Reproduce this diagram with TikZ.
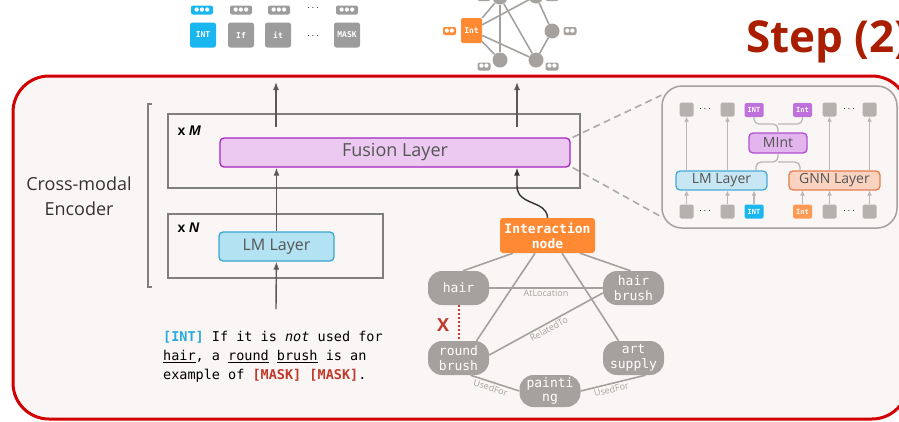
\documentclass[tikz,border=0pt]{standalone}
\usepackage{fontspec}
\setmainfont{Open Sans}
\setsansfont{Open Sans}
\setmonofont{DejaVu Sans Mono}
\newfontfamily\tagfont{Liberation Sans}
\newfontfamily\dotfont{DejaVu Sans}
\usetikzlibrary{arrows.meta,positioning}

\definecolor{framered}{HTML}{D20000}
\definecolor{titlered}{HTML}{AA1E00}
\definecolor{bgfill}{HTML}{FAF6F5}
\definecolor{boxgray}{HTML}{7F7F7F}
\definecolor{arrowgray}{HTML}{595959}
\definecolor{darkarrow}{HTML}{333333}
\definecolor{textgray}{HTML}{555555}
\definecolor{fusionfill}{HTML}{EBC9F0}
\definecolor{fusiondraw}{HTML}{A526C4}
\definecolor{lmfill}{HTML}{B3E2F3}
\definecolor{lmdraw}{HTML}{3AA6CF}
\definecolor{nodegray}{HTML}{A5A19F}
\definecolor{interorange}{HTML}{FF8A33}
\definecolor{tokblue}{HTML}{1AB6EF}
\definecolor{tokgray}{HTML}{9C9C9C}
\definecolor{txtblue}{HTML}{29A9E1}
\definecolor{txtred}{HTML}{C0392B}
\definecolor{sqgray}{HTML}{B5B1AF}
\definecolor{mintfill}{HTML}{E3B5EF}
\definecolor{mintdraw}{HTML}{B050D0}
\definecolor{tokpurple}{HTML}{C070DB}
\definecolor{lminfill}{HTML}{C8E7F5}
\definecolor{lmindraw}{HTML}{47A9D6}
\definecolor{gnnfill}{HTML}{F9D3BF}
\definecolor{gnndraw}{HTML}{E57D50}
\definecolor{intorange}{HTML}{FF9A55}
\definecolor{thingray}{HTML}{B8B8B8}

\begin{document}
\begin{tikzpicture}[
  x=1pt, y=-1pt,
  arrow/.style={-{Latex[length=8pt,width=6pt]}, line width=1.4pt, draw=arrowgray},
  frame/.style={draw=boxgray, line width=1.4pt, minimum height=0pt, inner sep=0pt},
  layer/.style={
    draw,
    rounded corners=4pt,
    line width=1.3pt,
    text=textgray,
    font=\fontsize{16}{18}\selectfont,
    inner sep=0pt
  },
  concept/.style={
    fill=nodegray,
    rounded corners=14pt,
    text=white,
    align=center,
    font=\ttfamily\fontsize{13}{14.5}\selectfont,
    minimum width=61pt,
    minimum height=34pt,
    inner sep=0pt
  },
  relation/.style={draw=nodegray, line width=1.6pt},
  rellabel/.style={font=\fontsize{9}{10}\selectfont, text=nodegray, inner sep=1.5pt},
  token/.style={rounded corners=2.5pt, text=white, font=\ttfamily\bfseries\fontsize{8}{8}\selectfont,
    minimum width=26pt, minimum height=25pt, inner sep=0pt},
  pill/.style={rounded corners=2pt, text=white, font=\dotfont\fontsize{5.5}{6}\selectfont,
    minimum width=22pt, minimum height=9pt, inner sep=0pt},
  sq/.style={fill=sqgray, rounded corners=1.5pt, minimum size=14pt, inner sep=0pt},
  mini/.style={rounded corners=1.5pt, text=white, font=\ttfamily\bfseries\fontsize{7}{7}\selectfont,
    minimum width=19pt, minimum height=14pt, inner sep=0pt},
  inarrow/.style={-{Latex[length=5pt,width=5pt]}, line width=1.4pt, draw=thingray},
  brace/.style={draw=thingray, line width=1.3pt, rounded corners=5pt},
  dot/.style={circle, fill=nodegray, minimum size=15pt, inner sep=0pt}
]
  \useasboundingbox (0,0) rectangle (899,421);

  % tokens on top
  \node[token, fill=tokblue] (tint) at (203,35) {INT};
  \node[token, fill=tokgray] (tif) at (241,35) {If};
  \node[token, fill=tokgray] (tit) at (278,35) {it};
  \node (tdots) at (313,36) {$\cdots$};
  \node[token, fill=tokgray] (tmask) at (347,35) {MASK};
  \node[pill, fill=tokblue] (pint) at (202,10) {●\kern0.5pt●\kern0.5pt●};
  \node[pill, fill=tokgray] (pif) at (241,10) {●\kern0.5pt●\kern0.5pt●};
  \node[pill, fill=tokgray] (pit) at (279,10) {●\kern0.5pt●\kern0.5pt●};
  \node (pdots) at (313,8) {$\cdots$};
  \node[pill, fill=tokgray] (pmask) at (347,10) {●\kern0.5pt●\kern0.5pt●};

  % small graph on top
  \node[dot] (gtl) at (500,-3) {};
  \node[dot] (gtr) at (536,-4) {};
  \node[dot] (grt) at (552,31) {};
  \node[dot] (gbl) at (500,60) {};
  \node[dot] (gbr) at (536,60) {};
  \node[rounded corners=1.5pt, fill=interorange, text=white, font=\ttfamily\bfseries\fontsize{8}{8}\selectfont,
    minimum width=21pt, minimum height=25pt, inner sep=0pt] (gint) at (471.5,30.5) {Int};
  \draw[relation] (gint) -- (gtl);
  \draw[relation] (gint) -- (gtr);
  \draw[relation] (gint) -- (gbl);
  \draw[relation] (gint) -- (gbr);
  \draw[relation] (gtl) -- (gbl);
  \draw[relation] (gtl) -- (gbr);
  \draw[relation] (gtr) -- (grt);
  \draw[relation] (grt) -- (gbr);
  \node[pill, fill=interorange, minimum width=13pt, minimum height=8pt] (gpint) at (449.5,31) {●\kern0.3pt●};
  \node[pill, fill=nodegray, minimum width=13pt, minimum height=8pt] (gpbl) at (484,66.5) {●\kern0.3pt●};
  \node[pill, fill=nodegray, minimum width=13pt, minimum height=8pt] (gpbr) at (552,66.5) {●\kern0.3pt●};
  \node[pill, fill=nodegray, minimum width=13pt, minimum height=8pt] (gprt) at (570,31) {●\kern0.3pt●};
  \node[pill, fill=nodegray, minimum width=13pt, minimum height=8pt] (gptl) at (484,-3) {●\kern0.3pt●};
  \node[pill, fill=nodegray, minimum width=13pt, minimum height=8pt] (gptr) at (552,-3) {●\kern0.3pt●};

  \node[anchor=base west, text=titlered, font=\bfseries\fontsize{44}{46}\selectfont, inner sep=0pt] (step) at (746,52) {Step (2)};

  % red frame
  \draw[draw=framered, line width=3pt, fill=bgfill, rounded corners=36pt] (13,76) rectangle (908,419);

  % encoder
  \draw[draw=boxgray, line width=1.2pt] (152,104) -- (148,104) -- (148,287) -- (152,287);
  \node[align=center, text=darkarrow, font=\fontsize{18}{25}\selectfont] (enc) at (79,196) {Cross-modal\\Encoder};

  \node[frame, minimum width=412pt, minimum height=74pt] (repM) at (374,151) {};
  \node[frame, minimum width=215pt, minimum height=64pt] (repN) at (275.5,246) {};
  \node[anchor=west, font=\tagfont\bfseries\fontsize{14}{16}\selectfont, text=black] (mtag) at (174,131) {x \textit{M}};
  \node[anchor=west, font=\tagfont\bfseries\fontsize{14}{16}\selectfont, text=black] (ntag) at (174,228) {x \textit{N}};

  \node[layer, draw=fusiondraw, fill=fusionfill, font=\fontsize{18}{20}\selectfont, minimum width=350pt, minimum height=29pt] (fusion) at (395,152.5) {Fusion Layer};
  \node[layer, draw=lmdraw, fill=lmfill, minimum width=115pt, minimum height=29pt] (lm) at (276.5,246.5) {LM Layer};

  \coordinate (txtin) at (276,309);
  \coordinate (outl) at (276,127);
  \coordinate (topl) at (276,82);
  \coordinate (outr) at (517,127);
  \coordinate (topr) at (517,82);
  \draw[arrow] (txtin) -- (lm);
  \draw[arrow] (lm) -- (lm |- fusion.south);
  \draw[arrow] (outl) -- (topl);
  \draw[arrow] (outr) -- (topr);

  % input sentence
  \node[anchor=north west, align=left, inner sep=0pt, text=black,
    font=\ttfamily\fontsize{13.5}{19}\selectfont] (sent) at (163,331)
    {\textcolor{txtblue}{\bfseries[INT]} If it is \textit{not} used for\\
     \underline{hair}, a \underline{round} \underline{brush} is an\\
     example of \textcolor{txtred}{\bfseries[MASK] [MASK]}.};

  % knowledge graph
  \node[rounded corners=3pt, fill=interorange, text=white, align=center,
    font=\ttfamily\bfseries\fontsize{13}{15}\selectfont,
    minimum width=95pt, minimum height=35pt, inner sep=0pt] (inter) at (547.5,235.5) {Interaction\\node};
  \node[concept] (hair) at (458.5,288) {hair};
  \node[concept] (hairb) at (633.5,288) {hair\\brush};
  \node[concept] (roundb) at (458.5,358) {round\\brush};
  \node[concept] (artsup) at (633.5,358) {art\\supply};
  \node[concept, minimum height=32pt] (paint) at (550,391) {painti\\ng};

  \coordinate (bend) at (517,186);
  \draw[arrow, draw=darkarrow] (inter.north) .. controls (547,200) and (517,206) .. (bend) -- (bend |- fusion.south);

  \draw[relation] ([xshift=-34.5pt]inter.south) -- ([xshift=4.5pt]hair.north);
  \draw[relation] ([xshift=-12.5pt]inter.south) -- ([xshift=18pt]roundb.north);
  \draw[relation] ([xshift=14.5pt]inter.south) -- ([xshift=-15pt]artsup.north);
  \draw[relation] ([xshift=32.5pt]inter.south) -- ([xshift=-3pt]hairb.north);
  \draw[relation] (hair.east) -- node[rellabel, below, pos=0.5] {AtLocation} (hairb.west);
  \draw[relation] ([yshift=3pt]roundb.east) -- node[rellabel, sloped, below, pos=0.5] {RelatedTo} ([yshift=-5pt]hairb.west);
  \draw[relation] ([xshift=12pt]roundb.south) -- node[rellabel, sloped, below, pos=0.45] {UsedFor} (paint.west);
  \draw[relation] (paint.east) -- node[rellabel, sloped, below, pos=0.45] {UsedFor} ([xshift=12pt]artsup.south);
  \draw[draw=txtred, line width=2pt, dotted] (hair.south) -- (roundb.north);
  \node[text=txtred, font=\bfseries\fontsize{18}{18}\selectfont, inner sep=0pt] (cross) at (443,325) {X};

  % zoomed view of the fusion layer
  \node[draw=nodegray, line width=1.5pt, fill=bgfill, rounded corners=20pt,
    minimum width=235pt, minimum height=142pt] (inset) at (779.5,157) {};
  \draw[draw=nodegray!90, line width=1.6pt, dash pattern=on 7pt off 4.5pt] ([xshift=2pt]fusion.north east) -- ([yshift=-10pt]inset.north west);
  \draw[draw=nodegray!90, line width=1.6pt, dash pattern=on 7pt off 4.5pt] ([xshift=2pt]fusion.south east) -- ([yshift=12pt]inset.south west);

  \node[sq] (u1) at (686.5,109.5) {};
  \node (udl) at (705,109) {$\cdots$};
  \node[sq] (u2) at (727.5,109.5) {};
  \node[mini, fill=tokpurple] (uint) at (754,110) {INT};
  \node[mini, fill=tokpurple] (ugint) at (802.5,110) {Int};
  \node[sq] (u3) at (829.5,109.5) {};
  \node (udr) at (849,109) {$\cdots$};
  \node[sq] (u4) at (869.5,109.5) {};

  \node[sq] (d1) at (686.5,211.5) {};
  \node (ddl) at (705,211) {$\cdots$};
  \node[sq] (d2) at (727.5,211.5) {};
  \node[mini, fill=tokblue] (dint) at (754,211.5) {INT};
  \node[mini, fill=intorange] (dgint) at (802.5,211.5) {Int};
  \node[sq] (d3) at (829.5,211.5) {};
  \node (ddr) at (849,211) {$\cdots$};
  \node[sq] (d4) at (869.5,211.5) {};

  \node[layer, draw=mintdraw, fill=mintfill, font=\fontsize{14}{16}\selectfont, minimum width=58pt, minimum height=20pt] (mint) at (778,143) {MInt};
  \node[layer, draw=lmindraw, fill=lminfill, font=\fontsize{14}{16}\selectfont, minimum width=91pt, minimum height=19pt] (lmin) at (721.5,180.5) {LM Layer};
  \node[layer, draw=gnndraw, fill=gnnfill, font=\fontsize{14}{16}\selectfont, minimum width=91pt, minimum height=19pt] (gnn) at (834.5,180.5) {GNN Layer};

  \coordinate (topknot) at (778,124);
  \coordinate (botknot) at (778,162);
  \draw[brace] (uint.south) |- (topknot) -- (mint.north);
  \draw[brace] (ugint.south) |- (topknot);
  \draw[brace] (mint.south) -- (botknot) -| ([xshift=34.5pt]lmin.north);
  \draw[brace] (botknot) -| ([xshift=-34.5pt]gnn.north);

  \draw[inarrow] (d1) -- (d1 |- lmin.south);
  \draw[inarrow] (d2) -- (d2 |- lmin.south);
  \draw[inarrow] (dint) -- (dint |- lmin.south);
  \draw[inarrow] (dgint) -- (dgint |- gnn.south);
  \draw[inarrow] (d3) -- (d3 |- gnn.south);
  \draw[inarrow] (d4) -- (d4 |- gnn.south);
  \draw[inarrow] (u1 |- lmin.north) -- (u1);
  \draw[inarrow] (u2 |- lmin.north) -- (u2);
  \draw[inarrow] (u3 |- gnn.north) -- (u3);
  \draw[inarrow] (u4 |- gnn.north) -- (u4);
\end{tikzpicture}
\end{document}
